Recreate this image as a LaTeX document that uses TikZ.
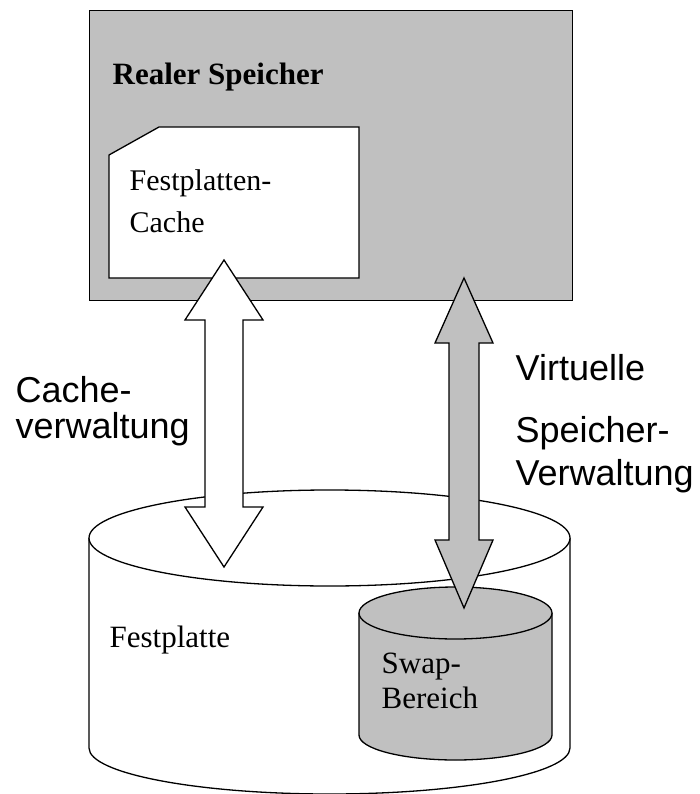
\documentclass[tikz,border=0pt]{standalone}
\usepackage{fontspec}
\setmainfont{Liberation Serif}
\setsansfont{Liberation Sans}
\definecolor{memgray}{RGB}{192,192,192}
\begin{document}
\begin{tikzpicture}[x=1pt,y=-1pt,line width=1.3pt,line join=miter,
  lbl/.style={anchor=base west,inner sep=0pt},
  serif/.style={lbl,font=\fontsize{30}{30}\selectfont},
  serifb/.style={lbl,font=\fontsize{31}{31}\selectfont\bfseries},
  sans/.style={lbl,font=\sffamily\fontsize{36}{36}\selectfont},
  outl/.style={draw=black}]
\useasboundingbox (0,0) rectangle (700,794);

% Festplatte (big cylinder)
\draw[outl,fill=white] (89,538) -- (89,748)
  arc[start angle=180,end angle=0,x radius=240.5,y radius=46] -- (570,538);
\draw[outl,fill=white] (329.5,538) ellipse[x radius=240.5,y radius=48];

% Swap cylinder
\draw[outl,fill=memgray] (359,613) -- (359,735)
  arc[start angle=180,end angle=0,x radius=96.5,y radius=25] -- (552,613);
\draw[outl,fill=memgray] (455.5,613) ellipse[x radius=96.5,y radius=26];

% Realer Speicher box
\node[outl,fill=memgray,anchor=north west,inner sep=0pt,
      minimum width=483pt,minimum height=290pt] (mem) at (89,10) {};

% Festplatten-Cache box
\draw[outl,fill=white] (109,155) -- (159,127) -- (359,127) -- (359,278)
  -- (109,278) -- cycle;

% Cache arrow
\draw[outl,fill=white] (224,260) -- (263,320) -- (243,320) -- (243,507)
  -- (263,507) -- (224,567) -- (185,507) -- (205,507) -- (205,320)
  -- (185,320) -- cycle;

% VM arrow
\draw[outl,fill=memgray] (464,278) -- (493,343) -- (479,343) -- (479,540)
  -- (493,540) -- (464,608) -- (435,540) -- (449,540) -- (449,343)
  -- (435,343) -- cycle;

% Texts
\node[serifb] (rs) at (112,85) {Realer Speicher};
\node[serif] (fc1) at (129,191) {Festplatten-};
\node[serif] (fc2) at (129,233) {Cache};
\node[serif,font=\fontsize{31}{31}\selectfont] (fp) at (109,647) {Festplatte};
\node[serif,font=\fontsize{31}{31}\selectfont] (sw1) at (381,673) {Swap-};
\node[serif,font=\fontsize{31}{31}\selectfont] (sw2) at (381,708) {Bereich};
\node[sans] (cv1) at (15,402) {Cache-};
\node[sans] (cv2) at (15,438) {verwaltung};
\node[sans] (vs1) at (515,380) {Virtuelle};
\node[sans] (vs2) at (515,442) {Speicher-};
\node[sans] (vs3) at (515,485) {Verwaltung};
\end{tikzpicture}
\end{document}
